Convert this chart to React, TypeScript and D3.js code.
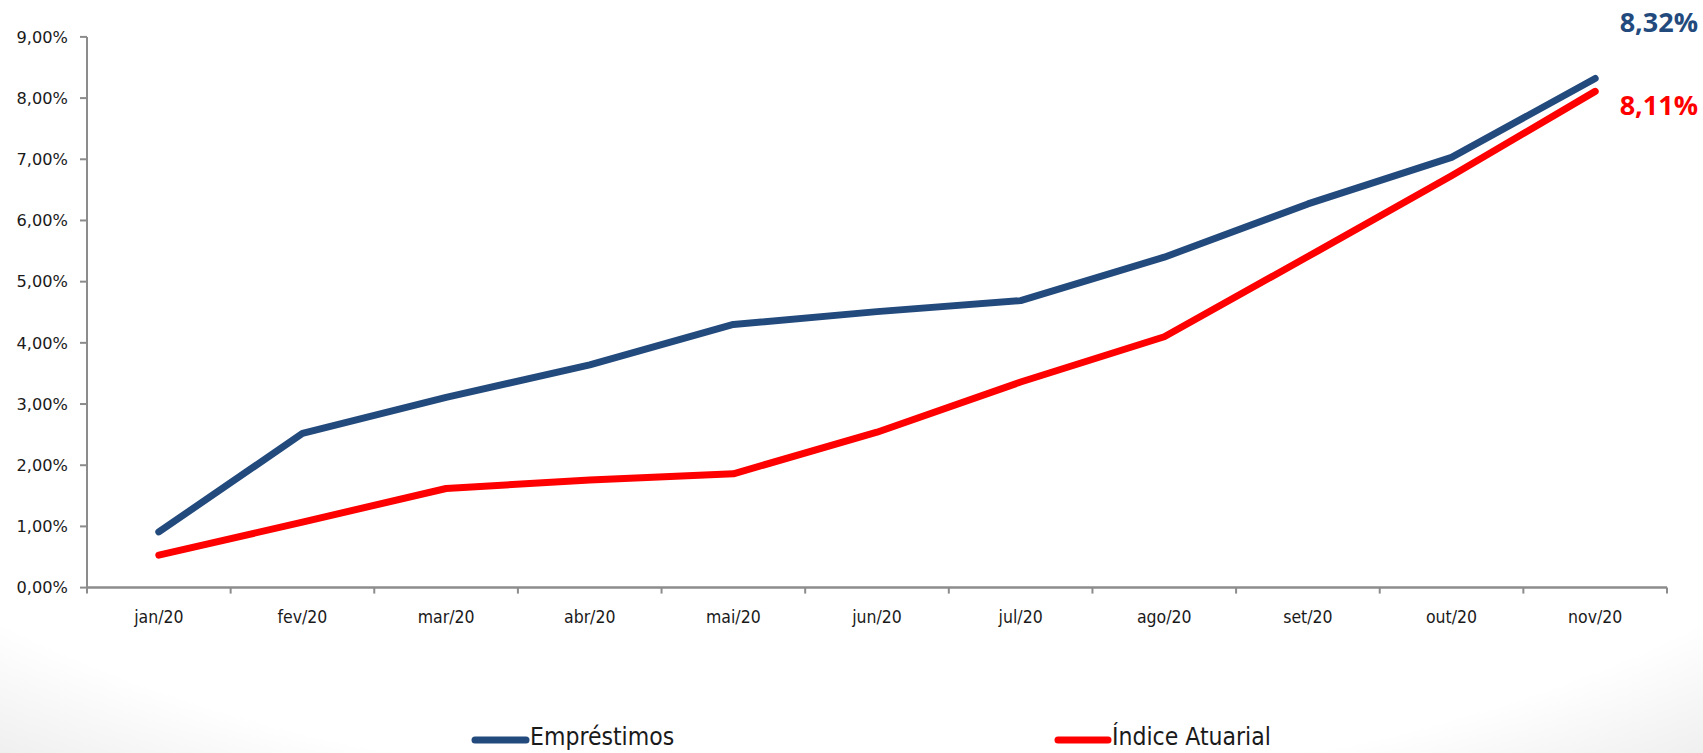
import React from "react";
import * as d3 from "d3";

const categories = ["jan/20", "fev/20", "mar/20", "abr/20", "mai/20", "jun/20", "jul/20", "ago/20", "set/20", "out/20", "nov/20"];
const emprestimos = [0.91, 2.52, 3.11, 3.64, 4.30, 4.51, 4.69, 5.40, 6.27, 7.03, 8.32];
const indiceAtuarial = [0.53, 1.07, 1.62, 1.76, 1.86, 2.54, 3.36, 4.10, 5.41, 6.73, 8.11];
const yTicks = [0, 1, 2, 3, 4, 5, 6, 7, 8, 9];
const seriesNames = ["Empréstimos", "Índice Atuarial"];
const endLabels = ["8,32%", "8,11%"];

const W = 1703;
const H = 753;
const BLUE = "#234A7D";
const RED = "#FF0000";
const AXIS = "#8C8C8C";
const NARROW = "'Liberation Sans Narrow', 'DejaVu Sans Condensed', 'Open Sans', sans-serif";

export default function App() {
  const x = d3.scaleBand().domain(categories).range([87, 1667]);
  const y = d3.scaleLinear().domain([0, 9]).range([587.6, 36.9]);
  const line = d3
    .line<number>()
    .x((_, i) => (x(categories[i]) as number) + x.bandwidth() / 2)
    .y((d) => y(d));
  const fmt = (v: number) => v.toFixed(2).replace(".", ",") + "%";
  const tickXs = categories.map((c) => x(c) as number).concat([1667]);
  const x0 = 87;
  const y0 = y(0);
  const legY = 736;

  return (
    <svg width={W} height={H} style={{ position: "absolute", left: 0, top: 0, background: "#fff" }}>
      <defs>
        <radialGradient id="bg" cx="50%" cy="40%" r="80%">
          <stop offset="82%" stopColor="#ffffff" />
          <stop offset="100%" stopColor="#ededed" />
        </radialGradient>
      </defs>
      <rect x={0} y={0} width={W} height={H} fill="url(#bg)" />
      {/* y axis */}
      <line x1={x0} x2={x0} y1={y(9)} y2={y0} stroke={AXIS} strokeWidth={2} />
      {yTicks.map((t) => (
        <g key={t}>
          <line x1={x0 - 7} x2={x0} y1={y(t)} y2={y(t)} stroke={AXIS} strokeWidth={2} />
          <text x={68} y={y(t)} dy="0.35em" textAnchor="end" fontFamily="'DejaVu Sans', sans-serif" fontSize={16.2} fill="#1a1a1a">
            {fmt(t)}
          </text>
        </g>
      ))}
      {/* x axis */}
      <line x1={x0} x2={1667} y1={y0} y2={y0} stroke={AXIS} strokeWidth={2.5} />
      {tickXs.map((tx, i) => (
        <line key={i} x1={tx} x2={tx} y1={y0} y2={y0 + 6} stroke={AXIS} strokeWidth={2} />
      ))}
      {categories.map((c) => (
        <text key={c} x={(x(c) as number) + x.bandwidth() / 2} y={617} dy="0.35em" textAnchor="middle" fontFamily={NARROW} fontSize={17.5} fill="#1a1a1a">
          {c}
        </text>
      ))}
      {/* lines */}
      <path d={line(indiceAtuarial) as string} fill="none" stroke={RED} strokeWidth={7} strokeLinecap="round" strokeLinejoin="round" />
      <path d={line(emprestimos) as string} fill="none" stroke={BLUE} strokeWidth={7} strokeLinecap="round" strokeLinejoin="round" />
      {/* end labels */}
      <text x={1698} y={23} dy="0.35em" textAnchor="end" fontFamily="'Open Sans', sans-serif" fontWeight="bold" fontSize={27} fill={BLUE}>
        {endLabels[0]}
      </text>
      <text x={1698} y={106} dy="0.35em" textAnchor="end" fontFamily="'Open Sans', sans-serif" fontWeight="bold" fontSize={27} fill={RED}>
        {endLabels[1]}
      </text>
      {/* legend */}
      <line x1={475} x2={526} y1={legY + 4} y2={legY + 4} stroke={BLUE} strokeWidth={7} strokeLinecap="round" />
      <text x={530} y={legY} dy="0.35em" fontFamily={NARROW} fontSize={24.5} fill="#1a1a1a">{seriesNames[0]}</text>
      <line x1={1058} x2={1108} y1={legY + 4} y2={legY + 4} stroke={RED} strokeWidth={7} strokeLinecap="round" />
      <text x={1112} y={legY} dy="0.35em" fontFamily={NARROW} fontSize={24.5} fill="#1a1a1a">{seriesNames[1]}</text>
    </svg>
  );
}
